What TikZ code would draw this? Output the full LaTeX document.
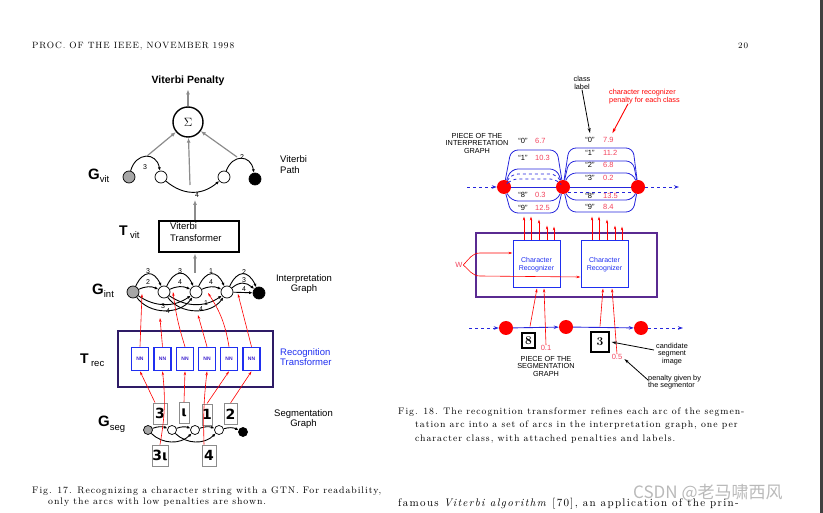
\documentclass[tikz,border=0pt]{standalone}
\usepackage{fontspec}
\usetikzlibrary{arrows.meta}
\newfontfamily\hv{Liberation Sans}
\newfontfamily\hw{DejaVu Sans}
\newfontfamily\cjk{Noto Sans CJK SC}
\newfontfamily\spaced{Latin Modern Roman}[LetterSpace=10]
\newfontfamily\spacedb{Latin Modern Roman}[LetterSpace=12]
\definecolor{vgray}{HTML}{8C8C8C}
\definecolor{nnblue}{HTML}{1F2FF0}
\definecolor{trpurple}{HTML}{2E1B66}
\definecolor{crpurple}{HTML}{5A2A91}
\definecolor{penred}{HTML}{F2425C}
\definecolor{arcblue}{HTML}{2626DC}
\definecolor{wmgray}{HTML}{A8A8A8}

\begin{document}
\begin{tikzpicture}[x=1pt,y=-1pt,
  lab/.style={font=\hv\fontsize{9.5}{10.5}\selectfont,inner sep=0pt},
  tiny/.style={font=\hv\fontsize{7.3}{7.5}\selectfont,inner sep=0pt},
  num/.style={font=\hv\fontsize{7}{7}\selectfont,inner sep=0pt},
  captext/.style={font=\spaced\fontsize{9.5}{11}\selectfont,inner sep=0pt,anchor=base west},
  gnode/.style={circle,draw,line width=0.7pt,minimum size=12pt,inner sep=0pt,fill=white},
  snode/.style={gnode,minimum size=9pt},
  rdot/.style={circle,fill=red,minimum size=14pt,inner sep=0pt},
  nnbox/.style={draw=nnblue,line width=1.6pt,minimum width=17pt,minimum height=23pt,inner sep=0pt,
    font=\hv\bfseries\fontsize{5}{5}\selectfont,text=nnblue!70!violet},
  segimg/.style={draw=black!45,line width=0.9pt,fill=white,inner sep=0pt,minimum height=21pt,
    font=\hw\bfseries\fontsize{14}{14}\selectfont},
  edgearr/.style={line width=0.9pt,-{Latex[length=3.5pt,width=3pt]}},
  garrow/.style={vgray,line width=1.2pt,-{Latex[length=5pt,width=4pt]}},
  rarrow/.style={red,line width=0.6pt,-{Stealth[length=4pt,width=2.4pt]}},
  iarc/.style={arcblue,line width=0.8pt,rounded corners=7pt},
  barrow/.style={arcblue,line width=0.9pt,-{Stealth[length=5pt,width=3.5pt]}},
  karrow/.style={black,line width=0.8pt,-{Stealth[length=5pt,width=3pt]}},
  val/.style={font=\hv\fontsize{7.5}{8}\selectfont,text=penred,inner sep=0pt,anchor=west},
  quo/.style={font=\hv\fontsize{7.5}{8}\selectfont,inner sep=0pt}]
\useasboundingbox (0,0) rectangle (823,513);
\fill[black!75] (820,0) rectangle (823,513);

% page head
\node[font=\spaced\fontsize{9.1}{10}\selectfont,inner sep=0pt,anchor=base west] (head) at (32,49) {PROC. OF THE IEEE, NOVEMBER 1998};
\node[font=\spaced\fontsize{8.5}{10}\selectfont,inner sep=0pt,anchor=base west] (pnum) at (738,49) {20};

% ---------- Fig. 17 ----------
\node[font=\hv\bfseries\fontsize{10.5}{11}\selectfont] (vpen) at (188,81) {Viterbi Penalty};
\node[circle,draw,line width=1.4pt,minimum size=30pt,inner sep=0pt,font=\fontsize{13}{13}\selectfont] (sum) at (188,122) {$\Sigma$};
\draw[garrow] (sum) -- (vpen);

\node[gnode,fill=black!35] (v0) at (129,177) {};
\node[gnode] (v1) at (161,177) {};
\node[gnode] (v2) at (224,177) {};
\node[gnode,fill=black] (v3) at (255,179) {};
\draw[edgearr] (v0) to[out=75,in=100,looseness=1.7] (v1);
\draw[edgearr] (v1) to[out=-40,in=-140,looseness=1.1] (v2);
\draw[edgearr] (v2) to[out=70,in=100,looseness=1.7] (v3);
\node[num] (vl1) at (145,167) {3};
\node[num] (vl2) at (197,195) {4};
\node[num] (vl3) at (242,157) {2};
\coordinate (va) at (147,156);
\coordinate (vb) at (190,185);
\coordinate (vc) at (237,157);
\draw[garrow] (va) -- (sum);
\draw[garrow] (vb) -- (sum);
\draw[garrow] (vc) -- (sum);

\node[anchor=base west,inner sep=0pt] (gvit) at (88,180) {\hv\bfseries\fontsize{15}{15}\selectfont G\raisebox{-3pt}{\mdseries\fontsize{9.5}{10}\selectfont vit}};
\node[lab,anchor=west,align=left] (vpath) at (280,164.5) {Viterbi\\Path};

\node[draw,line width=2pt,minimum width=80pt,minimum height=31pt,inner sep=0pt] (tvit) at (198.5,237) {};
\node[lab,anchor=north west,align=left,font=\hv\fontsize{9.5}{12}\selectfont] (tvittxt) at (170,222) {Viterbi\\Transformer};
\node[anchor=base west,inner sep=0pt] (tvitl) at (119,236) {\hv\bfseries\fontsize{14}{14}\selectfont T\,\raisebox{-3pt}{\mdseries\fontsize{9.5}{10}\selectfont vit}};
\coordinate (vbot) at (195,200);
\coordinate (itop) at (195,273);
\draw[garrow] (tvit.north -| vbot) -- (vbot);
\draw[garrow] (itop) -- (tvit.south -| itop);

% interpretation graph
\node[gnode,fill=black!35] (i0) at (133,292) {};
\node[gnode] (i1) at (164,292) {};
\node[gnode] (i2) at (196,292) {};
\node[gnode] (i3) at (227,292) {};
\node[gnode,fill=black] (i4) at (259,293) {};
\foreach \a/\b in {i0/i1,i1/i2,i2/i3} {
  \draw[edgearr] (\a) to[out=65,in=115,looseness=1.8] (\b);
  \draw[edgearr] (\a) to[out=25,in=155] (\b);
}
\draw[edgearr] (i3) to[out=65,in=115,looseness=1.8] (i4);
\draw[edgearr] (i3) to[out=40,in=140,looseness=1.2] (i4);
\draw[edgearr] (i3) -- (i4);
\draw[edgearr] (i0) to[out=-35,in=-145] (i2);
\draw[edgearr] (i0) to[out=-55,in=-125] (i2);
\draw[edgearr] (i1) to[out=-35,in=-145] (i3);
\draw[edgearr] (i1) to[out=-55,in=-125] (i3);
\foreach \x/\y/\t [count=\k] in {148/271/3,148/282/2,180/271/3,180/282/4,211/271/1,211/282/4,
    244/272/2,244/280/3,244/289/4,163/306/3,168/311/4,206/303/1,201/309/4}
  \node[num] (il\k) at (\x,\y) {\t};
\node[anchor=base west,inner sep=0pt] (gint) at (92,295) {\hv\bfseries\fontsize{15}{15}\selectfont G\raisebox{-2.5pt}{\mdseries\fontsize{9.5}{10}\selectfont int}};
\node[lab,align=center] (igraph) at (304,284) {Interpretation\\Graph};

% recognition transformer
\node[draw=trpurple,line width=1.8pt,minimum width=155pt,minimum height=56pt,inner sep=0pt] (trec) at (195.5,359) {};
\foreach \x [count=\k] in {140,162.5,185,207,229,251.5}
  \node[nnbox] (nn\k) at (\x,359) {NN};
\node[lab,align=left,anchor=west,text=nnblue] (rtrans) at (280,357) {Recognition\\Transformer};
\node[anchor=base west,inner sep=0pt] (trecl) at (80,363) {\hv\bfseries\fontsize{14}{14}\selectfont T\,\raisebox{-3pt}{\mdseries\fontsize{9.5}{10}\selectfont rec}};

\coordinate (t1) at (142,294);
\coordinate (t2) at (160,318);
\coordinate (t3) at (173,292);
\coordinate (t4) at (198,315);
\coordinate (t5) at (208,293);
\coordinate (t6) at (238,294);
\draw[rarrow] (nn1.north) -- (t1);
\draw[rarrow] (nn2.north) -- (t2);
\draw[rarrow] (nn3.north) to[bend left=5] (t3);
\draw[rarrow] (nn4.north) -- (t4);
\draw[rarrow] (nn5.north) to[bend right=12] (t5);
\draw[rarrow] (nn6.north) -- (t6);

% segmentation graph
\node[segimg,minimum width=14pt] (img3) at (160,413.5) {3};
\node[segimg,minimum width=10pt] (imgi) at (184,413) {ι};
\node[segimg,minimum width=10pt] (img1) at (207,414.5) {1};
\node[segimg,minimum width=13pt] (img2) at (230.5,414) {2};
\node[segimg,minimum width=16pt] (img34) at (160,455.5) {3ι};
\node[segimg,minimum width=14pt] (img4) at (209,455.5) {4};
\node[snode,fill=black!35] (s0) at (148,430) {};
\node[snode] (s1) at (172,430) {};
\node[snode] (s2) at (195,430) {};
\node[snode] (s3) at (219,430) {};
\node[snode,fill=black] (s4) at (243,432) {};
\foreach \a/\b in {s0/s1,s1/s2,s2/s3,s3/s4}
  \draw[edgearr] (\a) to[bend left=20] (\b);
\draw[edgearr] (s0) to[out=-45,in=-135] (s2);
\draw[edgearr] (s1) to[out=-45,in=-135] (s3);
\draw[rarrow] ([xshift=-5pt]img3.north) -- (nn1.south);
\draw[rarrow] (img34.north) to[bend right=8] (nn2.south);
\draw[rarrow] ([xshift=-5pt]img4.north) to[bend left=4] (nn4.south);
\draw[rarrow] (imgi.north) -- (nn3.south);
\draw[rarrow] (img1.north) -- (nn5.south);
\draw[rarrow] (img2.north) -- (nn6.south);
\node[anchor=base west,inner sep=0pt] (gseg) at (98,427) {\hv\bfseries\fontsize{15}{15}\selectfont G\raisebox{-3pt}{\mdseries\fontsize{9.5}{10}\selectfont seg}};
\node[lab,align=center] (sgraph) at (303.5,419) {Segmentation\\Graph};

\node[captext] (cap17a) at (32,493) {Fig. 17.\hspace{0.6em}Recognizing a character string with a GTN. For readability,};
\node[captext] (cap17b) at (48,504) {only the arcs with low penalties are shown.};

% ---------- Fig. 18 ----------
\node[tiny,align=center] (clab) at (582,83) {class\\label};
\node[tiny,align=left,anchor=west,text=red] (crpen) at (609,96.5) {character recognizer\\penalty for each class};
\node[tiny,align=center] (pig) at (477,143) {PIECE OF THE\\INTERPRETATION\\GRAPH};

\node[rdot] (pL) at (504,187) {};
\node[rdot] (pM) at (563,187) {};
\node[rdot] (pR) at (638,187) {};
\coordinate (pin) at (467,187);
\coordinate (pout) at (679,187);
\draw[barrow,dashed] (pin) -- (pL);
\draw[barrow,dashed] (pR) -- (pout);
\foreach \yy/\st in {150/solid,169/solid,174/dashed,179/dashed,201/solid,213/solid}
  \draw[iarc,\st] (pL) -- (511,\yy) -- (557,\yy) -- (pM);
\draw[iarc] (pL) -- (pM);
\foreach \yy in {148,161,173,200,212}
  \draw[iarc] (pM) -- (569,\yy) -- (633,\yy) -- (pR);
\draw[iarc] (pM) -- (pR);
\draw[iarc,dashed] (pM.south east) -- (pR.south west);

\foreach \t/\v/\y [count=\k] in {0/6.7/141,1/10.3/158,8/0.3/195,9/12.5/208} {
  \node[quo] (qa\k) at (523,\y) {“\t”};
  \node[val] (va\k) at (535,\y) {\v};
}
\foreach \t/\v/\y [count=\k] in {0/7.9/140,1/11.2/153,2/6.8/165,3/0.2/178,8/13.5/196,9/8.4/207} {
  \node[quo] (qb\k) at (590,\y) {“\t”};
  \node[val] (vb\k) at (603,\y) {\v};
}
\draw[karrow] (clab.south) -- ([yshift=4pt]qb1.north);
\draw[red,line width=0.9pt,-{Stealth[length=5pt,width=3pt]}] ([xshift=19pt]crpen.south west) -- ([xshift=4pt,yshift=4pt]vb1.north);

\node[draw=crpurple,line width=2pt,minimum width=181pt,minimum height=64pt,inner sep=0pt] (rtr) at (566.5,265) {};
\node[draw=nnblue,line width=1pt,minimum width=47pt,minimum height=47pt,inner sep=0pt,align=center,
  font=\hv\fontsize{7}{7.5}\selectfont,text=nnblue] (cr1) at (536.5,264.5) {Character\\Recognizer};
\node[draw=nnblue,line width=1pt,minimum width=47pt,minimum height=47pt,inner sep=0pt,align=center,
  font=\hv\fontsize{7}{7.5}\selectfont,text=nnblue] (cr2) at (604.5,264.5) {Character\\Recognizer};
\foreach \dx/\h in {-12.5/24,-5.5/24,2.5/21,10.5/15,17.5/14} {
  \draw[rarrow] ([xshift=\dx pt]cr1.north) -- ++(0,-\h);
  \draw[rarrow] ([xshift=\dx pt]cr2.north) -- ++(0,-\h);
}
\node[font=\hv\fontsize{7.5}{8}\selectfont,text=penred,inner sep=0.5pt] (wlab) at (459,265) {W};
\draw[rarrow] (wlab.east) to[out=45,in=180] (480,253) -- (cr1.west |- 480,253);
\draw[rarrow] (wlab.east) to[out=-40,in=180] (480,276) -- (cr2.west |- 480,277);

\node[rdot] (sL) at (506,328) {};
\node[rdot] (sM) at (566,327) {};
\node[rdot] (sR) at (641,328) {};
\coordinate (sin) at (469,328);
\coordinate (sout) at (683,328);
\draw[barrow,dashed] (sin) -- (sL);
\draw[barrow,dashed] (sR) -- (sout);
\draw[barrow] (sL) -- (sM);
\draw[barrow] (sM) -- (sR);
\node[draw,line width=1.1pt,minimum width=13pt,minimum height=15pt,inner sep=0pt,fill=white,
  font=\bfseries\fontsize{12}{12}\selectfont] (im8) at (528.5,340.5) {8};
\node[draw,line width=1.1pt,minimum width=18pt,minimum height=20pt,inner sep=0pt,fill=white,
  font=\bfseries\fontsize{12}{12}\selectfont] (im3) at (600,342) {3};
\node[val,anchor=center] (p01) at (546,348) {0.1};
\node[val,anchor=center] (p05) at (617,357) {0.5};
\draw[rarrow] ([xshift=1.5pt,yshift=6pt]im8.north) -- ([xshift=0.5pt]cr1.south);
\draw[rarrow] (p01.north) -- ([xshift=7.5pt]cr1.south);
\draw[rarrow] ([yshift=5pt]im3.north) -- ([xshift=-1.5pt]cr2.south);
\draw[rarrow] (p05.north) -- ([xshift=7.5pt]cr2.south);
\node[tiny,align=center] (psg) at (546,366) {PIECE OF THE\\SEGMENTATION\\GRAPH};
\node[tiny,align=center] (cand) at (672,354) {candidate\\segment\\image};
\node[tiny,align=left,anchor=west] (pseg) at (648,382) {penalty given by\\the segmentor};
\draw[karrow] ([xshift=-2pt,yshift=4pt]cand.west) -- ([xshift=2pt]im3.east);
\draw[karrow] ([yshift=2pt]pseg.west) -- ([xshift=2pt,yshift=-2pt]p05.east);

\node[captext] (cap18a) at (398,414) {Fig. 18.\hspace{0.6em}The recognition transformer refines each arc of the segmen-};
\node[captext] (cap18b) at (415,428) {tation arc into a set of arcs in the interpretation graph, one per};
\node[captext] (cap18c) at (415,441) {character class, with attached penalties and labels.};
\node[captext,font=\spacedb\fontsize{11}{13}\selectfont] (body) at (398,506) {famous \textit{Viterbi algorithm} [70], an application of the prin-};
\node[font=\cjk\fontsize{17}{17}\selectfont,text=wmgray,opacity=0.8,anchor=west,inner sep=0pt] (wm) at (633,493) {CSDN @老马啸西风};
\end{tikzpicture}
\end{document}
